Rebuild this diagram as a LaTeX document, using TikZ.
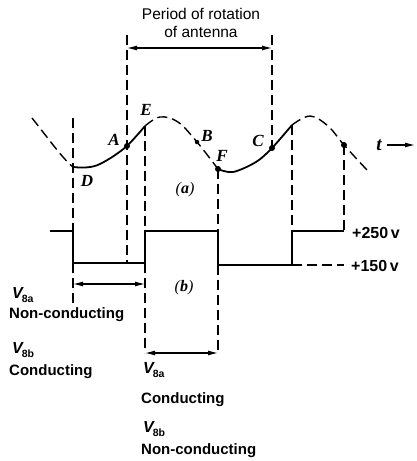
\documentclass[tikz,border=0pt]{standalone}
\usepackage{fontspec}
\setmainfont{Liberation Serif}
\newfontfamily\lsans{Liberation Sans}
\usetikzlibrary{arrows.meta}
\tikzset{
  wave/.style={line width=1.8pt},
  dsh/.style={line width=1.4pt, dash pattern=on 10pt off 5pt},
  sq/.style={line width=1.8pt},
  dimarrow/.style={line width=1.1pt, {Latex[length=10pt,width=5pt]}-{Latex[length=10pt,width=5pt]}},
  lbl/.style={font=\fontsize{17}{19}\selectfont\bfseries\itshape, inner sep=0pt, anchor=base},
  txt/.style={font=\lsans\bfseries\fontsize{15}{17}\selectfont, inner sep=0pt, anchor=base west},
  ttl/.style={font=\lsans\fontsize{15.5}{17}\selectfont, inner sep=0pt, anchor=base},
  dotm/.style={circle, fill, inner sep=0pt, minimum size=6pt},
}
\newcommand{\Vsub}[1]{{\fontsize{16}{18}\selectfont\bfseries\itshape V}\kern-1pt\raisebox{-4pt}{\lsans\bfseries\fontsize{10.5}{12}\selectfont #1}}
\begin{document}
\begin{tikzpicture}[x=1pt,y=-1pt]
\useasboundingbox (0,0) rectangle (416,461);
% key points on the wave
\coordinate (D) at (73,167);
\coordinate (A) at (127,146);
\coordinate (E) at (145,126);
\coordinate (B) at (197,142);
\coordinate (F) at (218,169);
\coordinate (C) at (272,148);
\coordinate (G) at (292,125);
\coordinate (H) at (344,145);
% tops of period lines
\coordinate (Atop) at (127,35);
\coordinate (Ctop) at (272,35);
\coordinate (Dtop) at (73,118);
% square wave corners
\coordinate (Dh) at (73,231);
\coordinate (Dl) at (73,263);
\coordinate (Al) at (127,263);
\coordinate (El) at (145,263);
\coordinate (Eh) at (145,231);
\coordinate (Fh) at (218,231);
\coordinate (Fl) at (218,265);
\coordinate (Gl) at (292,265);
\coordinate (Gh) at (292,231);
\coordinate (Hh) at (344,231);
\coordinate (Hl) at (344,265);
% bottoms of lower dashed lines
\coordinate (Db) at (73,303);
\coordinate (Eb) at (145,353);
\coordinate (Fb) at (218,353);

% wave
\draw[dsh] (32,118) .. controls (48,138) and (62,158) .. (D);
\draw[wave] (D) .. controls (82,168) and (92,168) .. (100,164)
            .. controls (110,159) and (120,152) .. (A)
            .. controls (133,140) and (140,132) .. (E);
\draw[dsh] plot[smooth, tension=0.6] coordinates {(E) (160,117) (178,122) (B) (F)};
\draw[wave] plot[smooth, tension=0.55] coordinates {(F) (233,172) (256,162) (C) (G)};
\draw[dsh] plot[smooth, tension=0.6] coordinates {(G) (310,116) (328,126) (H) (367,170)};
\foreach \p in {A,F,C,H} \node[dotm] at (\p) {};
\node[dotm, minimum size=4.5pt] at (B) {};

% vertical dashed lines
\draw[dsh] (Dtop) -- (Dh);
\draw[dsh] (Atop) -- (Al);
\draw[dsh] (E) -- (Eh);
\draw[dsh] (F) -- (Fh);
\draw[dsh] (Ctop) -- (C);
\draw[dsh] (G) -- (Gh);
\draw[dsh] (H) -- (Hh);
\draw[dsh] (Dl) -- (Db);
\draw[dsh] (El) -- (Eb);
\draw[dsh] (Fl) -- (Fb);

% square wave
\draw[sq] (50,231) -- (Dh) -- (Dl) -- (El) -- (Eh) -- (Fh) -- (Fl) -- (Gl) -- (Gh) -- (Hh);
\draw[dsh] (Gl) -- (Hl);

% dimension arrows
\draw[dimarrow] (127,48) -- (272,48);
\draw[dimarrow] (73,284) -- (145,284);
\draw[dimarrow] (145,353) -- (218,353);

% title
\node[ttl] (t1) at (201,19.5) {Period of rotation};
\node[ttl] (t2) at (201,37) {of antenna};

% point labels
\node[lbl] (lE) at (146,115) {E};
\node[lbl] (lA) at (114,145) {A};
\node[lbl] (lD) at (87,186) {D};
\node[lbl] (lB) at (207,141) {B};
\node[lbl] (lF) at (222,161) {F};
\node[lbl] (lC) at (258,146) {C};
\node[lbl, font=\fontsize{19}{21}\selectfont\bfseries\itshape] (lt) at (379,150) {t};
\coordinate (tarr0) at (387,145);
\coordinate (tarr1) at (415,145);
\draw[line width=1.1pt, -{Latex[length=10pt,width=5pt]}] (tarr0) -- (tarr1);
\node[lbl, font=\fontsize{16}{18}\selectfont\itshape] (la) at (185,193) {(\textbf{a})};
\node[lbl, font=\fontsize{16}{18}\selectfont\itshape] (lb) at (184,291) {(\textbf{b})};

% voltage labels
\node[txt, font=\lsans\bfseries\fontsize{16}{18}\selectfont] (v250) at (352,238) {+250\,v};
\node[txt, font=\lsans\bfseries\fontsize{16}{18}\selectfont] (v150) at (351,271) {+150\,v};

% left block
\node[txt] (l1) at (12,298) {\Vsub{8a}};
\node[txt] (l2) at (9,318) {Non-conducting};
\node[txt] (l3) at (12,353) {\Vsub{8b}};
\node[txt] (l4) at (9,375) {Conducting};

% bottom block
\node[txt] (b1) at (143,373) {\Vsub{8a}};
\node[txt] (b2) at (141,403) {Conducting};
\node[txt] (b3) at (143,432) {\Vsub{8b}};
\node[txt] (b4) at (141,454) {Non-conducting};
\end{tikzpicture}
\end{document}
